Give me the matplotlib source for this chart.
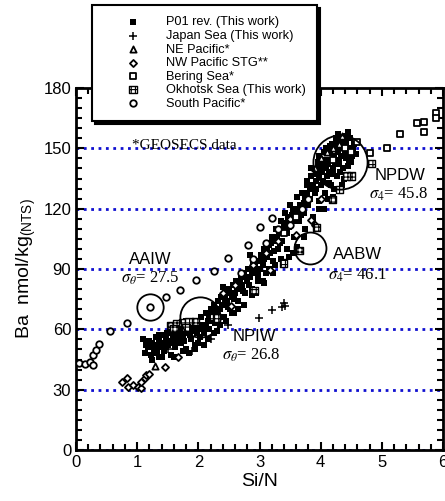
import numpy as np
import matplotlib.pyplot as plt
from matplotlib.ticker import MultipleLocator

plt.rcParams['font.family'] = ['Liberation Sans', 'DejaVu Sans']
plt.rcParams['mathtext.fontset'] = 'custom'
plt.rcParams['mathtext.rm'] = 'Liberation Sans'
plt.rcParams['hatch.linewidth'] = 0.8

# ---- data (Si/N, Ba nmol/kg) ----
p01_si = [1.13, 1.10, 1.17, 1.22, 1.25, 1.28, 1.30, 1.33, 1.36, 1.38, 1.42, 1.44, 1.47, 1.50, 1.52, 1.55, 1.57, 1.60, 1.62, 1.64,
          1.67, 1.70, 1.72, 1.75, 1.78, 1.80, 1.82, 1.85, 1.88, 1.90, 1.92, 1.95, 1.97, 2.00, 2.02, 2.05, 2.07, 2.10, 2.12, 2.15,
          2.18, 2.20, 2.22, 2.25, 2.27, 2.30, 2.32, 2.35, 2.37, 2.40, 2.42, 2.45, 2.47, 2.50, 2.52, 2.55, 2.57, 2.60, 2.62, 2.65,
          2.67, 2.70, 2.72, 2.75, 2.77, 2.80, 2.82, 2.85, 2.87, 2.90, 2.92, 2.95, 2.97, 3.00, 3.02, 3.05, 3.07, 3.10, 3.12, 3.15,
          3.17, 3.20, 3.22, 3.25, 3.27, 3.30, 3.32, 3.35, 3.37, 3.40, 3.42, 3.45, 3.47, 3.50, 3.52, 3.55, 3.57, 3.60, 3.62, 3.65,
          3.67, 3.70, 3.72, 3.75, 3.77, 3.80, 3.82, 3.85, 3.87, 3.90, 3.92, 3.95, 3.97, 4.00, 4.02, 4.05, 4.07, 4.10, 4.12, 4.15,
          4.17, 4.20, 4.22, 4.25, 4.27, 4.30, 4.32, 4.35, 4.37, 4.40, 4.42, 4.45, 4.47, 4.50, 4.52, 4.55, 4.28, 4.18, 4.08, 3.98,
          2.35, 2.55, 2.40, 2.85, 3.15, 3.45, 3.75, 4.05, 4.20, 4.35, 3.25, 2.95, 1.85, 2.10, 1.40, 2.00, 2.30, 2.65, 3.05, 3.55,
          1.15, 1.20, 1.27, 1.32, 1.35, 1.40, 1.45, 1.48, 1.53, 1.58, 1.63, 1.66, 1.68, 1.73, 1.77, 1.80, 1.83, 1.87, 1.93, 1.98,
          2.03, 2.08, 2.13, 2.17, 2.20, 2.23, 2.28, 2.33, 2.38, 2.43, 2.48, 2.53, 2.58, 2.63, 2.68, 2.73, 2.78, 2.83, 2.88, 2.93,
          2.98, 3.03, 3.08, 3.13, 3.18, 3.23, 3.28, 3.33, 3.38, 3.43, 3.48, 3.53, 3.58, 3.63, 3.68, 3.73, 3.78, 3.83, 3.88, 3.93,
          3.98, 4.03, 4.08, 4.13, 4.18, 4.23, 4.28, 4.33, 4.38, 4.43, 4.48, 4.53, 4.40, 4.25, 4.15, 4.05, 3.95, 3.85, 3.78, 4.32,
          4.45, 4.50, 4.58, 4.38, 4.22, 4.12, 3.98, 3.88, 3.72, 3.62, 3.48, 3.35, 3.22, 3.08, 2.88, 2.75, 2.58, 2.45, 2.25, 2.15,
          1.95, 1.75, 1.60, 1.35, 1.25, 4.10, 4.26, 4.36, 4.46, 4.14, 4.02, 3.92, 4.42, 4.30, 4.20]
p01_ba = [48, 55, 51, 47, 53, 50, 56, 48, 54, 51, 57, 49, 55, 52, 58, 47, 54, 56, 51, 59,
          55, 60, 53, 57, 62, 50, 58, 61, 55, 63, 59, 52, 64, 60, 56, 66, 62, 58, 68, 64,
          60, 70, 66, 72, 63, 68, 74, 70, 76, 72, 66, 78, 74, 80, 70, 76, 82, 78, 84, 74,
          80, 86, 82, 88, 78, 84, 90, 86, 80, 92, 88, 94, 84, 90, 97, 92, 100, 88, 96, 102,
          98, 106, 94, 104, 110, 100, 108, 114, 104, 112, 118, 108, 116, 122, 112, 120, 106, 118, 126, 114,
          122, 128, 118, 126, 132, 122, 130, 136, 116, 128, 134, 140, 124, 132, 138, 144, 128, 136, 142, 148,
          132, 140, 146, 152, 136, 144, 150, 155, 140, 148, 153, 158, 144, 150, 146, 152, 157, 152, 150, 146,
          62, 68, 81, 97, 90, 100, 110, 120, 126, 132, 92, 78, 48, 52, 46, 53, 59, 70, 84, 98,
          52, 54, 48, 52, 57, 53, 51, 58, 53, 57, 54, 61, 57, 59, 54, 64, 60, 57, 61, 58,
          62, 60, 62, 67, 64, 68, 70, 66, 72, 75, 71, 78, 75, 80, 83, 79, 86, 82, 89, 91,
          87, 94, 95, 99, 103, 99, 106, 103, 110, 113, 111, 117, 114, 120, 117, 123, 128, 125, 132, 130,
          136, 134, 140, 138, 144, 142, 148, 146, 152, 150, 155, 149, 156, 155, 151, 148, 143, 140, 134, 138,
          141, 143, 147, 135, 130, 125, 120, 114, 106, 101, 96, 95, 88, 83, 77, 72, 68, 64, 58, 55,
          50, 49, 46, 46, 45, 144, 151, 153, 147, 133, 141, 137, 145, 142, 137]

japan_si = [2.20, 2.48, 2.99, 3.20, 3.37, 3.40, 3.42, 1.50, 1.90]
japan_ba = [55, 62, 65.5, 69.5, 71, 73, 71.5, 50, 49]

nepac_si = [1.29, 4.00, 4.10, 4.20, 4.30, 3.90, 4.35]
nepac_ba = [42, 145, 148, 150, 152, 140, 156]

nwpac_si = [0.75, 0.83, 0.85, 0.93, 1.02, 1.07, 1.07, 1.13, 1.15, 1.19, 1.45, 1.66, 2.54, 3.17, 3.60, 3.85,
            2.40, 2.60, 2.90, 3.10, 3.30, 3.50, 4.00, 3.90]
nwpac_ba = [34, 35.8, 31.5, 32.3, 31.5, 30.8, 34, 35.8, 37.3, 37.8, 41.3, 46.4, 71.6, 89.6, 107, 114.4,
            78, 82, 92, 98, 104, 115, 125, 112]

bering_si = [4.80, 5.08, 5.29, 5.57, 5.69, 5.69, 5.89, 5.89, 4.40, 4.50, 4.60, 4.20, 3.60, 3.40]
bering_ba = [147.7, 150.4, 157, 162.8, 163.3, 158, 167.6, 165, 150, 148, 153, 144, 116, 108]

okhotsk_si = [4.83, 4.50, 4.42, 4.31, 4.19, 3.93, 3.65, 3.39, 2.91, 2.24, 2.30,
              1.55, 1.65, 1.75, 1.85, 1.95, 1.60, 1.80]
okhotsk_ba = [142.6, 136.3, 136.3, 129.4, 124.7, 110.6, 99.2, 92.9, 79.3, 66.3, 65.7,
              62, 63, 63.5, 64, 64, 60.5, 61]

spac_si = [0.05, 0.15, 0.23, 0.27, 0.28, 0.32, 0.38, 0.56, 0.83, 1.21, 1.47, 1.70, 1.96, 2.25, 2.48,
           2.81, 3.00, 3.20, 2.90, 3.10, 3.30, 3.50, 3.70, 3.80, 2.70]
spac_ba = [43.4, 42.8, 43.8, 42.4, 47.3, 49.8, 52.7, 59.4, 63.2, 71, 76, 79.6, 84.6, 89.2, 95.5,
           102, 111, 115.5, 95, 103, 110, 112, 120, 125, 88]

# water mass rings: centre (Si/N, Ba) and size
ring_si = [1.21, 2.03, 3.82, 4.31]
ring_ba = [71, 66, 100.5, 143.4]
ring_size = [19, 29, 23, 39]

grid_levels = [0, 30, 60, 90, 120, 150]

fig = plt.figure(figsize=(4.45, 5.01), dpi=100)
ax = fig.add_axes([76 / 445, 51 / 501, 367 / 445, 362 / 501])

for g in grid_levels:
    ax.axhline(g, color='#1010d0', ls=':', lw=2, zorder=1)

h1 = ax.scatter(p01_si, p01_ba, marker='s', s=15, c='k', lw=0, zorder=3, label='P01 rev. (This work)')
h2 = ax.scatter(japan_si, japan_ba, marker='+', s=36, c='k', lw=1.1, zorder=3, label='Japan Sea (This work)')
h3 = ax.scatter(nepac_si, nepac_ba, marker='^', s=20, facecolor='white', edgecolor='k', lw=1.3, zorder=3,
                label='NE Pacific*')
h4 = ax.scatter(nwpac_si, nwpac_ba, marker='D', s=13, facecolor='white', edgecolor='k', lw=1.3, zorder=3,
                label='NW Pacific STG**')
h5 = ax.scatter(bering_si, bering_ba, marker='s', s=24, facecolor='white', edgecolor='k', lw=1.3, zorder=3,
                label='Bering Sea*')
h6 = ax.scatter(okhotsk_si, okhotsk_ba, marker='s', s=28, facecolor='white', edgecolor='k', lw=1.0, hatch='++++',
                zorder=3, label='Okhotsk Sea (This work)')
h7 = ax.scatter(spac_si, spac_ba, marker='o', s=22, facecolor='white', edgecolor='k', lw=1.3, zorder=3,
                label='South Pacific*')

for rx, ry, rs in zip(ring_si, ring_ba, ring_size):
    ax.plot(rx, ry, 'o', ms=rs, mfc='none', mec='k', mew=1.3, zorder=4)

# water mass labels
ax.text(1.21, 94.5, 'AAIW', fontsize=12, ha='center', va='center')
ax.text(1.21, 85.3, r'$\sigma_\theta$= 27.5', fontsize=12, ha='center', va='center',
        family='Liberation Serif', math_fontfamily='stix')
ax.text(2.92, 56.3, 'NPIW', fontsize=12, ha='center', va='center')
ax.text(2.87, 47.3, r'$\sigma_\theta$= 26.8', fontsize=12, ha='center', va='center',
        family='Liberation Serif', math_fontfamily='stix')
ax.text(5.29, 136.5, 'NPDW', fontsize=12, ha='center', va='center')
ax.text(5.27, 127.3, r'$\sigma_4$= 45.8', fontsize=12, ha='center', va='center',
        family='Liberation Serif', math_fontfamily='stix')
ax.text(4.6, 97, 'AABW', fontsize=12, ha='center', va='center')
ax.text(4.6, 86.8, r'$\sigma_4$= 46.1', fontsize=12, ha='center', va='center',
        family='Liberation Serif', math_fontfamily='stix')
ax.text(0.92, 151.5, '*GEOSECS data', fontsize=11, ha='left', va='center', family='Liberation Serif')

ax.set_xlim(0, 6)
ax.set_ylim(0, 180)
ax.xaxis.set_major_locator(MultipleLocator(1))
ax.xaxis.set_minor_locator(MultipleLocator(0.2))
ax.yaxis.set_major_locator(MultipleLocator(30))
ax.yaxis.set_minor_locator(MultipleLocator(5))
ax.tick_params(which='both', direction='in', top=True, right=True, width=1.5, labelsize=12)
ax.tick_params(which='major', length=6)
ax.tick_params(which='minor', length=4)
for sp in ax.spines.values():
    sp.set_linewidth(2)

ax.set_xlabel('Si/N', fontsize=14, labelpad=2)
ax.set_ylabel(r'Ba  nmol/kg$_{\mathrm{(NTS)}}$', fontsize=14, labelpad=4)

leg = ax.legend(handles=[h1, h2, h3, h4, h5, h6, h7], loc='upper left',
                bbox_to_anchor=(92 / 445, 1 - 5 / 501), bbox_transform=fig.transFigure,
                borderaxespad=0, fontsize=9.2, labelspacing=0.12, handletextpad=0.3, borderpad=0.9,
                handlelength=4.6, fancybox=False, framealpha=1, edgecolor='k',
                shadow={'color': 'k', 'alpha': 1})
leg.get_frame().set_linewidth(1.5)
leg.set_zorder(10)

fig.savefig('out.png', dpi=100)
